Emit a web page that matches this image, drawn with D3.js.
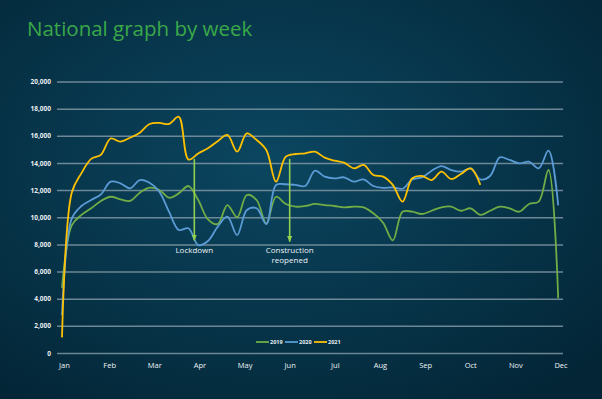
<!DOCTYPE html>
<html>
<head>
<meta charset="utf-8">
<script src="https://cdn.jsdelivr.net/npm/d3@7"></script>
<style>
  body { margin: 0; padding: 0; overflow: hidden; }
  svg { display: block; }
  text { font-family: "Open Sans", "Noto Sans", sans-serif; }
</style>
</head>
<body>
<svg id="chart" width="602" height="399"></svg>
<script>
// weekly totals
var months = ['Jan','Feb','Mar','Apr','May','Jun','Jul','Aug','Sep','Oct','Nov','Dec'];
var yTicks = [0, 2000, 4000, 6000, 8000, 10000, 12000, 14000, 16000, 18000, 20000];

var w2019 = [4800, 9400, 10170, 10660, 11200, 11510, 11320, 11200, 11810, 12180,
             12010, 11440, 11760, 12300, 11270, 9850, 9500, 10900, 10000, 11640,
             11270, 9550, 11510, 10980, 10780, 10830, 10980, 10900, 10830, 10730,
             10780, 10730, 10290, 9600, 8300, 10410, 10410, 10240, 10480, 10730,
             10780, 10480, 10660, 10170, 10480, 10780, 10660, 10410, 10980, 11150,
             13480, 4030];
var w2020 = [2800, 9900, 10830, 11270, 11690, 12620, 12500, 12130, 12740, 12540,
             11880, 10410, 9060, 9190, 7950, 8250, 9300, 10040, 8690, 10530,
             10660, 9500, 12380, 12430, 12380, 12300, 13430, 12990, 12870, 12940,
             12620, 12790, 12300, 12160, 12200, 12100, 12790, 12940, 13430, 13770,
             13480, 13360, 13600, 12790, 13040, 14410, 14220, 13970, 14090, 13600,
             14900, 10880];
var w2021 = [1150, 11800, 13250, 14300, 14600, 15800, 15570, 15860, 16230, 16870,
             16950, 16870, 17400, 14250, 14700, 15080, 15600, 16060, 14830, 16180,
             15690, 14950, 12620, 14460, 14660, 14710, 14830, 14390, 14170, 14020,
             13600, 13850, 13110, 12990, 12380, 11150, 12870, 13040, 12740, 13360,
             12820, 13190, 13600, 12380];

var seriesNames = ['2019', '2020', '2021'];
var seriesColors = ['#70ad47', '#5b9bd5', '#ffc000'];

// annotations: week index and label lines
var notes = [
  {week: 13.6, from: 14300, to: 8300, lines: ['Lockdown']},
  {week: 23.4, from: 14300, to: 8200, lines: ['Construction', 'reopened']}
];

var svg = d3.select('#chart');
var W = 602, H = 399;

// background
var defs = svg.append('defs');
var grad = defs.append('radialGradient').attr('id', 'bg')
  .attr('cx', '45%').attr('cy', '40%').attr('r', '75%');
grad.append('stop').attr('offset', '0%').attr('stop-color', '#0b4660');
grad.append('stop').attr('offset', '100%').attr('stop-color', '#032536');
svg.append('rect').attr('width', W).attr('height', H).attr('fill', 'url(#bg)');

defs.append('marker').attr('id', 'arrow')
  .attr('viewBox', '0 0 10 10').attr('refX', 9).attr('refY', 5)
  .attr('markerWidth', 4).attr('markerHeight', 4).attr('orient', 'auto')
  .append('path').attr('d', 'M0,1 L10,5 L0,9 Z').attr('fill', '#92d050');

// title
svg.append('text').attr('x', 27).attr('y', 36)
  .attr('fill', '#3aa848').attr('font-size', 20.5)
  .text('National graph by week');

var x = d3.scaleLinear().domain([0, 51]).range([62, 558.2]);
var xm = d3.scalePoint().domain(months).range([64, 560.5]);
var y = d3.scaleLinear().domain([0, 20000]).range([353, 81.5]);

// gridlines + y labels
var yAxis = svg.append('g').attr('transform', 'translate(57,0)')
  .call(d3.axisLeft(y).tickValues(yTicks).tickSize(-506).tickPadding(6)
    .tickFormat(d3.format(',')));
yAxis.select('.domain').remove();
yAxis.selectAll('line').attr('stroke', '#7f96a3').attr('stroke-width', 1.5).attr('opacity', 0.85);
yAxis.selectAll('text').attr('fill', '#e8eef2').attr('font-size', 6.5)
  .attr('font-weight', 'bold').style('font-family', '"Open Sans", sans-serif');

// month labels
var xAxis = svg.append('g').attr('transform', 'translate(0,360)')
  .call(d3.axisBottom(xm).tickSize(0).tickPadding(3));
xAxis.select('.domain').remove();
xAxis.selectAll('text').attr('fill', '#eef3f6').attr('font-size', 7.5)
  .style('font-family', '"Open Sans", sans-serif');

// lines
var line = d3.line()
  .x(function(d, i){ return x(i); })
  .y(function(d){ return y(d); })
  .curve(d3.curveCatmullRom.alpha(0.5));

[w2019, w2020, w2021].forEach(function(s, i){
  svg.append('path').datum(s)
    .attr('fill', 'none')
    .attr('stroke', seriesColors[i])
    .attr('stroke-width', 1.8)
    .attr('stroke-linejoin', 'round')
    .attr('d', line);
});

// annotations
notes.forEach(function(n){
  svg.append('line')
    .attr('x1', x(n.week)).attr('x2', x(n.week))
    .attr('y1', y(n.from)).attr('y2', y(n.to))
    .attr('stroke', '#92d050').attr('stroke-width', 1.6)
    .attr('marker-end', 'url(#arrow)');
  n.lines.forEach(function(t, j){
    svg.append('text')
      .attr('x', x(n.week)).attr('y', 253 + j * 10)
      .attr('text-anchor', 'middle')
      .attr('fill', '#eef3f6').attr('font-size', 8)
      .text(t);
  });
});

// legend
var leg = svg.append('g').attr('transform', 'translate(256,342)');
seriesNames.forEach(function(name, i){
  var g = leg.append('g').attr('transform', 'translate(' + (i * 29) + ',0)');
  g.append('line').attr('x1', 0).attr('x2', 13)
    .attr('stroke', seriesColors[i]).attr('stroke-width', 1.8);
  g.append('text').attr('x', 14).attr('y', 2)
    .attr('fill', '#e8eef2').attr('font-size', 5.5).attr('font-weight', 'bold')
    .text(name);
});
</script>
</body>
</html>
